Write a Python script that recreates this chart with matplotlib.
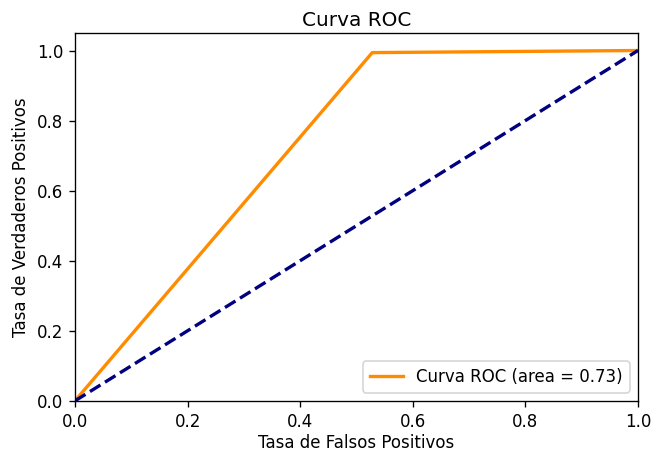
import numpy as np
import matplotlib.pyplot as plt

# Puntos de la curva ROC
fpr = [0.0, 0.528, 1.0]
tpr = [0.0, 0.994, 1.0]
roc_auc = 0.73

fig = plt.figure(figsize=(652 / 120, 455 / 120), dpi=120)
ax = fig.add_axes([0.115, 0.119, 0.8635, 0.8085])

lw = 2
ax.plot(fpr, tpr, color='darkorange', lw=lw, label='Curva ROC (area = %0.2f)' % roc_auc)
ax.plot([0, 1], [0, 1], color='navy', lw=lw, linestyle='--')
ax.set_xlim([0.0, 1.0])
ax.set_ylim([0.0, 1.05])
ax.set_xlabel('Tasa de Falsos Positivos', labelpad=2)
ax.set_ylabel('Tasa de Verdaderos Positivos')
ax.set_title('Curva ROC', pad=4)
ax.legend(loc="lower right")

fig.savefig('out.png', dpi=120)
